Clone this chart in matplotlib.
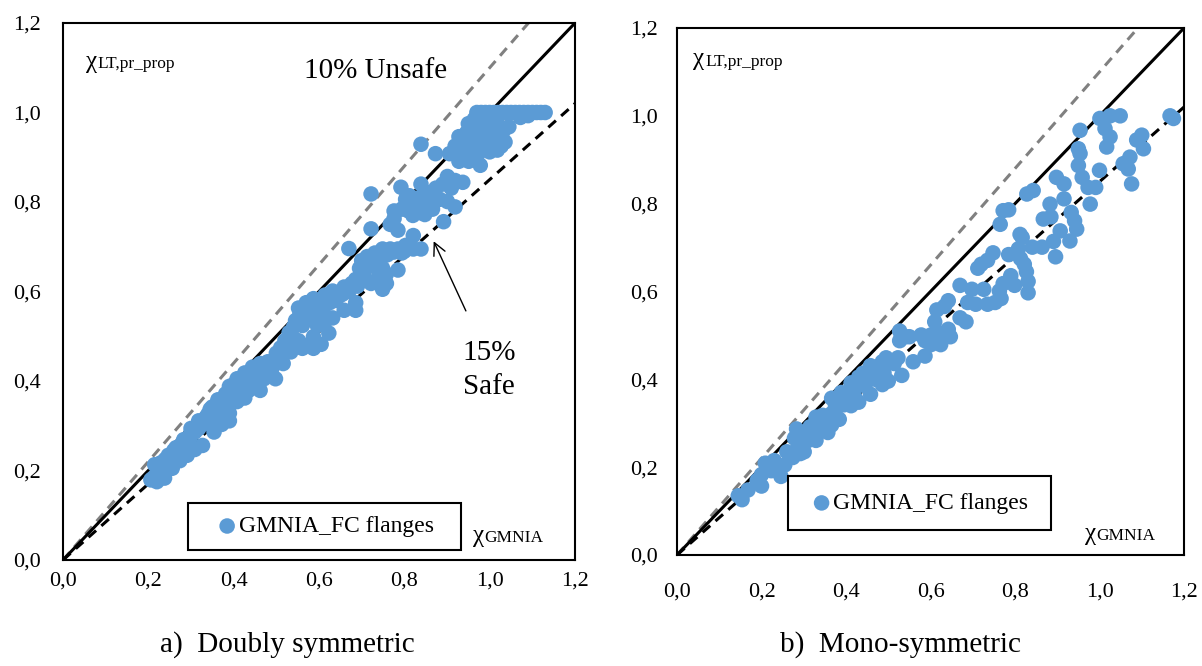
import matplotlib.pyplot as plt
from matplotlib.patches import Rectangle
from matplotlib.ticker import FixedLocator, FuncFormatter

plt.rcParams["font.family"] = ["Liberation Serif", "DejaVu Serif"]

# a) doubly symmetric: (chi_GMNIA, chi_LT,pr_prop)
doubly_points = [
    (0.206, 0.179), (0.211, 0.183), (0.215, 0.213), (0.220, 0.192), (0.220, 0.175),
    (0.229, 0.200), (0.229, 0.217), (0.238, 0.209), (0.238, 0.183), (0.247, 0.217),
    (0.247, 0.234), (0.256, 0.230), (0.256, 0.205), (0.265, 0.239), (0.265, 0.251),
    (0.274, 0.247), (0.274, 0.222), (0.283, 0.256), (0.283, 0.269), (0.291, 0.269),
    (0.291, 0.234), (0.300, 0.277), (0.300, 0.294), (0.309, 0.286), (0.309, 0.247),
    (0.318, 0.294), (0.318, 0.311), (0.327, 0.303), (0.327, 0.256), (0.336, 0.320),
    (0.336, 0.311), (0.345, 0.337), (0.354, 0.315), (0.354, 0.286), (0.363, 0.358),
    (0.372, 0.303), (0.372, 0.320), (0.381, 0.371), (0.390, 0.388), (0.390, 0.362),
    (0.390, 0.345), (0.390, 0.328), (0.390, 0.311), (0.408, 0.405), (0.408, 0.396),
    (0.408, 0.354), (0.426, 0.418), (0.426, 0.362), (0.435, 0.379), (0.444, 0.431),
    (0.453, 0.396), (0.462, 0.439), (0.462, 0.379), (0.471, 0.405), (0.480, 0.443),
    (0.489, 0.426), (0.498, 0.405), (0.498, 0.448), (0.516, 0.465), (0.516, 0.439),
    (0.525, 0.482), (0.534, 0.465), (0.534, 0.499), (0.552, 0.490), (0.552, 0.563),
    (0.561, 0.524), (0.561, 0.473), (0.570, 0.541), (0.570, 0.575), (0.578, 0.482),
    (0.587, 0.473), (0.587, 0.499), (0.587, 0.584), (0.596, 0.524), (0.605, 0.482),
    (0.614, 0.592), (0.614, 0.533), (0.623, 0.507), (0.632, 0.541), (0.632, 0.601),
    (0.650, 0.592), (0.659, 0.558), (0.659, 0.610), (0.670, 0.696), (0.677, 0.618),
    (0.686, 0.558), (0.686, 0.627), (0.686, 0.575), (0.695, 0.652), (0.700, 0.669),
    (0.704, 0.635), (0.713, 0.678), (0.722, 0.618), (0.722, 0.740), (0.722, 0.818),
    (0.731, 0.686), (0.740, 0.635), (0.749, 0.695), (0.749, 0.605), (0.749, 0.652),
    (0.758, 0.639), (0.758, 0.618), (0.767, 0.695), (0.767, 0.750), (0.776, 0.763),
    (0.776, 0.780), (0.785, 0.695), (0.785, 0.648), (0.785, 0.737), (0.792, 0.833),
    (0.794, 0.784), (0.794, 0.686), (0.803, 0.703), (0.803, 0.793), (0.803, 0.806),
    (0.812, 0.814), (0.812, 0.703), (0.821, 0.695), (0.821, 0.725), (0.830, 0.789),
    (0.839, 0.695), (0.839, 0.776), (0.839, 0.840), (0.839, 0.929), (0.848, 0.772),
    (0.848, 0.823), (0.848, 0.797), (0.857, 0.806), (0.866, 0.784), (0.873, 0.908),
    (0.874, 0.831), (0.883, 0.806), (0.892, 0.756), (0.901, 0.857), (0.901, 0.801),
    (0.906, 0.908), (0.910, 0.831), (0.919, 0.848), (0.919, 0.789), (0.919, 0.925),
    (0.928, 0.946), (0.928, 0.891), (0.933, 0.899), (0.937, 0.925), (0.937, 0.844),
    (0.946, 0.955), (0.951, 0.891), (0.955, 0.916), (0.964, 0.959), (0.964, 0.985),
    (0.973, 0.925), (0.973, 0.908), (0.978, 0.882), (0.982, 0.963), (0.982, 0.976),
    (0.991, 0.934), (1.000, 0.959), (1.000, 0.968), (1.000, 0.912), (1.009, 0.942),
    (1.018, 0.951), (1.018, 0.916), (1.018, 0.976), (1.027, 0.925), (1.036, 0.934),
    (1.045, 0.968), (1.072, 0.989), (1.090, 0.993),
    (0.97, 1.0), (0.98, 1.0), (0.99, 1.0), (1.00, 1.0), (1.01, 1.0), (1.02, 1.0),
    (1.03, 1.0), (1.04, 1.0), (1.05, 1.0), (1.06, 1.0), (1.07, 1.0), (1.08, 1.0),
    (1.09, 1.0), (1.10, 1.0), (1.11, 1.0), (1.12, 1.0), (1.13, 1.0),
    # filling the dense band
    (0.240, 0.225), (0.260, 0.245), (0.280, 0.262), (0.300, 0.285), (0.320, 0.302),
    (0.340, 0.326), (0.350, 0.342), (0.360, 0.347), (0.370, 0.352), (0.380, 0.362),
    (0.400, 0.372), (0.400, 0.392), (0.420, 0.388), (0.430, 0.410), (0.440, 0.398),
    (0.450, 0.420), (0.470, 0.432), (0.480, 0.418), (0.490, 0.442), (0.500, 0.462),
    (0.510, 0.474), (0.520, 0.490), (0.530, 0.508), (0.540, 0.520), (0.545, 0.535),
    (0.555, 0.548), (0.565, 0.556), (0.580, 0.562), (0.595, 0.570), (0.600, 0.550),
    (0.610, 0.562), (0.625, 0.575), (0.640, 0.580), (0.655, 0.594), (0.670, 0.600),
    (0.690, 0.612), (0.700, 0.645), (0.715, 0.655), (0.730, 0.665), (0.745, 0.675),
    (0.760, 0.682), (0.775, 0.688), (0.800, 0.690), (0.810, 0.780), (0.820, 0.770),
    (0.825, 0.808), (0.860, 0.820), (0.890, 0.840), (0.945, 0.935), (0.960, 0.940),
    (0.990, 0.950), (1.005, 0.930), (1.030, 0.955), (0.950, 0.975), (0.995, 0.985),
]

# b) mono-symmetric
mono_points = [
    (0.145, 0.135), (0.154, 0.126), (0.168, 0.148), (0.190, 0.170), (0.200, 0.157),
    (0.200, 0.183), (0.209, 0.209), (0.218, 0.200), (0.223, 0.192), (0.237, 0.196),
    (0.246, 0.179), (0.255, 0.205), (0.274, 0.222), (0.278, 0.266), (0.283, 0.287),
    (0.288, 0.248), (0.292, 0.231), (0.301, 0.270), (0.301, 0.235), (0.311, 0.261),
    (0.320, 0.279), (0.329, 0.287), (0.329, 0.261), (0.329, 0.314), (0.338, 0.296),
    (0.347, 0.305), (0.357, 0.314), (0.357, 0.279), (0.366, 0.322), (0.366, 0.296),
    (0.366, 0.357), (0.375, 0.340), (0.384, 0.353), (0.384, 0.309), (0.389, 0.370),
    (0.394, 0.357), (0.403, 0.366), (0.412, 0.375), (0.412, 0.340), (0.412, 0.392),
    (0.421, 0.383), (0.430, 0.392), (0.430, 0.348), (0.430, 0.405), (0.440, 0.401),
    (0.440, 0.414), (0.449, 0.405), (0.458, 0.409), (0.458, 0.366), (0.458, 0.431),
    (0.467, 0.414), (0.467, 0.418), (0.476, 0.422), (0.486, 0.431), (0.486, 0.388),
    (0.486, 0.440), (0.490, 0.414), (0.495, 0.449), (0.500, 0.396), (0.514, 0.436),
    (0.523, 0.449), (0.527, 0.510), (0.527, 0.488), (0.532, 0.409), (0.541, 0.497),
    (0.550, 0.497), (0.559, 0.440), (0.578, 0.501), (0.587, 0.488), (0.587, 0.453),
    (0.601, 0.501), (0.601, 0.479), (0.610, 0.531), (0.615, 0.558), (0.624, 0.505),
    (0.624, 0.479), (0.633, 0.566), (0.642, 0.514), (0.642, 0.579), (0.647, 0.497),
    (0.670, 0.540), (0.670, 0.614), (0.684, 0.531), (0.688, 0.575), (0.698, 0.605),
    (0.707, 0.571), (0.712, 0.653), (0.720, 0.662), (0.726, 0.605), (0.735, 0.571),
    (0.735, 0.671), (0.748, 0.688), (0.753, 0.575),
    (0.763, 0.601), (0.767, 0.584), (0.772, 0.618), (0.785, 0.684), (0.790, 0.636),
    (0.799, 0.614), (0.808, 0.697), (0.813, 0.675), (0.817, 0.723), (0.822, 0.662),
    (0.827, 0.645), (0.831, 0.623), (0.831, 0.597), (0.841, 0.701), (0.864, 0.701),
    (0.891, 0.714), (0.896, 0.679), (0.930, 0.715),
    (0.765, 0.753), (0.772, 0.784), (0.785, 0.786), (0.812, 0.730), (0.828, 0.822),
    (0.843, 0.830), (0.867, 0.765), (0.885, 0.770), (0.883, 0.799), (0.898, 0.860),
    (0.907, 0.738), (0.916, 0.845), (0.916, 0.811), (0.933, 0.780), (0.941, 0.761),
    (0.946, 0.742), (0.950, 0.925), (0.950, 0.887), (0.954, 0.967), (0.954, 0.914),
    (0.959, 0.860), (0.973, 0.837), (0.978, 0.799), (0.991, 0.837), (1.000, 0.876),
    (1.001, 0.994), (1.013, 0.971), (1.017, 0.929), (1.025, 1.000), (1.025, 0.952),
    (1.049, 1.000), (1.056, 0.891), (1.068, 0.879), (1.072, 0.906), (1.076, 0.845),
    (1.088, 0.945), (1.100, 0.956), (1.104, 0.925), (1.167, 1.000), (1.175, 0.994),
    # filling the dense band
    (0.230, 0.215), (0.260, 0.235), (0.290, 0.262), (0.315, 0.292), (0.345, 0.318),
    (0.375, 0.330), (0.395, 0.342), (0.420, 0.362), (0.445, 0.385), (0.470, 0.400),
]

ticks = [0.0, 0.2, 0.4, 0.6, 0.8, 1.0, 1.2]
unsafe_ratio = 1.10
safe_ratio = 0.85
series_label = "GMNIA_FC flanges"
blue = "#5b9bd5"


def chi_label(ax, x, y, sub):
    t = ax.text(x, y, "χ", fontsize=18, ha="left", va="baseline", zorder=5)
    ax.annotate(sub, xy=(1, 0), xycoords=t, xytext=(0.3, 0.5),
                textcoords="offset points", fontsize=12.5, ha="left", va="bottom")


def draw_panel(ax, points, xpad, ypad, box, lt_pos, gm_pos):
    xs = [p[0] for p in points]
    ys = [p[1] for p in points]
    top = ticks[-1]
    ax.plot([0, top / unsafe_ratio], [0, top], color="#808080", lw=2.2,
            dashes=(3.3, 2.3), zorder=1)
    ax.plot([0, top], [0, top], color="black", lw=2.2, zorder=1)
    ax.plot([0, top], [0, top * safe_ratio], color="black", lw=2.2,
            dashes=(3.3, 2.3), zorder=1)
    ax.scatter(xs, ys, s=125, color=blue, edgecolors="none", zorder=3,
               label=series_label)

    ax.set_xlim(0, top)
    ax.set_ylim(0, top)
    ax.xaxis.set_major_locator(FixedLocator(ticks))
    ax.yaxis.set_major_locator(FixedLocator(ticks))
    fmt = FuncFormatter(lambda v, _: f"{v:.1f}".replace(".", ","))
    ax.xaxis.set_major_formatter(fmt)
    ax.yaxis.set_major_formatter(fmt)
    ax.tick_params(axis="both", length=0, labelsize=16)
    ax.tick_params(axis="x", pad=xpad)
    ax.tick_params(axis="y", pad=ypad)
    for s in ax.spines.values():
        s.set_linewidth(1.5)
        s.set_color("black")

    x0, y0, x1, y1 = box
    ax.add_patch(Rectangle((x0, y0), x1 - x0, y1 - y0, transform=ax.transAxes,
                           fill=False, lw=1.5, ec="black", zorder=6))
    ax.legend(loc="center", bbox_to_anchor=((x0 + x1) / 2, (y0 + y1) / 2),
              frameon=False, fontsize=17, handletextpad=0.0, handlelength=1.0,
              scatterpoints=1, borderpad=0, borderaxespad=0)

    chi_label(ax, lt_pos[0], lt_pos[1], "LT,pr_prop")
    chi_label(ax, gm_pos[0], gm_pos[1], "GMNIA")


fig = plt.figure(figsize=(12.02, 6.66), dpi=100)
ax1 = fig.add_axes([63 / 1202, 106 / 666, 512 / 1202, 537 / 666])
ax2 = fig.add_axes([677 / 1202, 111 / 666, 507 / 1202, 527 / 666])

draw_panel(ax1, doubly_points, 8, 16, (0.244, 0.019, 0.778, 0.106),
           (0.054, 1.100), (0.960, 0.040))
draw_panel(ax2, mono_points, 20, 14, (0.218, 0.047, 0.737, 0.149),
           (0.039, 1.115), (0.965, 0.034))

ax1.text(0.565, 1.078, "10% Unsafe", fontsize=21, ha="left", va="baseline")
ax1.text(0.937, 0.448, "15%", fontsize=21, ha="left", va="baseline")
ax1.text(0.937, 0.371, "Safe", fontsize=21, ha="left", va="baseline")
ax1.annotate("", xy=(0.866, 0.718), xytext=(0.947, 0.551),
             arrowprops=dict(arrowstyle="->", lw=1.0, color="black",
                             mutation_scale=22), zorder=5)

fig.text(287 / 1202, 1 - 645 / 666, "a)  Doubly symmetric", fontsize=21,
         ha="center", va="center")
fig.text(900 / 1202, 1 - 645 / 666, "b)  Mono-symmetric", fontsize=21,
         ha="center", va="center")

fig.savefig("out.png", dpi=100)
